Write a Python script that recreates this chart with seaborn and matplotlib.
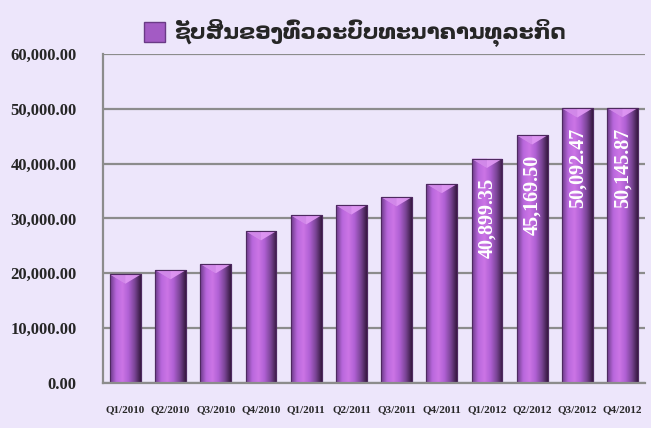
import matplotlib
matplotlib.use("Agg")
import matplotlib.pyplot as plt
import matplotlib.patches as mpatches
from matplotlib.colors import LinearSegmentedColormap
from matplotlib.ticker import FuncFormatter, FixedLocator
import numpy as np
import pandas as pd
import seaborn as sns

quarters = ["Q1/2010", "Q2/2010", "Q3/2010", "Q4/2010",
            "Q1/2011", "Q2/2011", "Q3/2011", "Q4/2011",
            "Q1/2012", "Q2/2012", "Q3/2012", "Q4/2012"]
assets = [19800, 20600, 21700, 27700,
          30600, 32400, 33900, 36300,
          40899.35, 45169.50, 50092.47, 50145.87]
labelled = [False] * 8 + [True] * 4
title = "ຊັບສິນຂອງທົ່ວລະບົບທະນາຄານທຸລະກິດ"

bg = "#ede6fb"
grid_c = "#8c8c8c"

sns.set_style("white")
plt.rcParams["font.family"] = ["Liberation Serif", "DejaVu Serif"]

df = pd.DataFrame({"quarter": quarters, "assets": assets})

fig = plt.figure(figsize=(6.51, 4.28), dpi=100, facecolor=bg)
ax = fig.add_axes([0.158, 0.105, 0.833, 0.769])
ax.set_facecolor(bg)

sns.barplot(data=df, x="quarter", y="assets", color="#b466d6", width=0.68,
            ax=ax, zorder=3, saturation=1, edgecolor="#5a2f6e", linewidth=0.8)

# cylinder-like shading on each bar
cmap = LinearSegmentedColormap.from_list(
    "bar", ["#6a3a86", "#b867dc", "#cc75e6", "#b060d4", "#7b4596", "#35183f"])
grad = np.linspace(0, 1, 256).reshape(1, -1)
for p in list(ax.patches):
    x0, w, h = p.get_x(), p.get_width(), p.get_height()
    im = ax.imshow(grad, cmap=cmap, aspect="auto", extent=[x0, x0 + w, 0, h],
                   zorder=4, interpolation="bicubic")
    im.set_clip_path(p)
    cap = h - 0.028 * 60000
    tri = mpatches.Polygon([[x0, h], [x0 + w, h], [x0 + w / 2, cap]],
                           closed=True, facecolor="#e29af5", edgecolor="none",
                           zorder=5, alpha=0.9)
    ax.add_patch(tri)
    side = mpatches.Polygon([[x0, h], [x0 + w / 2, cap], [x0 + w / 2, h]],
                            closed=True, facecolor="#c57ce0", edgecolor="none",
                            zorder=5, alpha=0.5)
    ax.add_patch(side)
    outline = mpatches.Rectangle((x0, 0), w, h, facecolor="none",
                                 edgecolor="#4e2960", linewidth=0.8, zorder=5.5)
    ax.add_patch(outline)

ax.set_xlim(-0.5, len(quarters) - 0.5)
ax.set_ylim(0, 60000)
ax.yaxis.set_major_locator(FixedLocator(np.arange(0, 60001, 10000)))
ax.yaxis.set_major_formatter(FuncFormatter(lambda v, _: f"{v:,.2f}"))
ax.grid(axis="y", color=grid_c, linewidth=1.6, zorder=1)
ax.set_axisbelow(True)

for s in ["top", "right"]:
    ax.spines[s].set_visible(False)
for s in ["left", "bottom"]:
    ax.spines[s].set_color(grid_c)
    ax.spines[s].set_linewidth(1.6)
    ax.spines[s].set_zorder(6)

ax.tick_params(axis="y", length=5, width=1.4, color=grid_c, direction="out",
               labelsize=12, pad=14)
ax.set_xticks(np.arange(len(quarters)))
ax.set_xticklabels(quarters)
ax.tick_params(axis="x", length=0, labelsize=8, pad=16)
ax.set_xticks(np.arange(-0.5, len(quarters)), minor=True)
ax.tick_params(axis="x", which="minor", length=4, width=1.2, color=grid_c)
for t in ax.get_xticklabels() + ax.get_yticklabels():
    t.set_fontweight("bold")
ax.set_xlabel("")
ax.set_ylabel("")

for i, (v, show) in enumerate(zip(assets, labelled)):
    if show:
        ax.annotate(f"{v:,.2f}", (i, v), xytext=(0, -14), textcoords="offset points",
                    rotation=90, ha="center", va="top", color="white",
                    fontsize=14.5, fontweight="bold", zorder=7)

handle = mpatches.Patch(facecolor="#a35bc4", edgecolor="#6a3a86")
fig.legend([handle], [title], loc="upper center", bbox_to_anchor=(0.545, 1.0),
           frameon=False, handlelength=1.0, handleheight=1.0, handletextpad=0.4,
           prop={"family": ["DejaVu Sans"], "size": 15.5, "weight": "bold"})

fig.savefig("out.png", dpi=100, facecolor=bg)
